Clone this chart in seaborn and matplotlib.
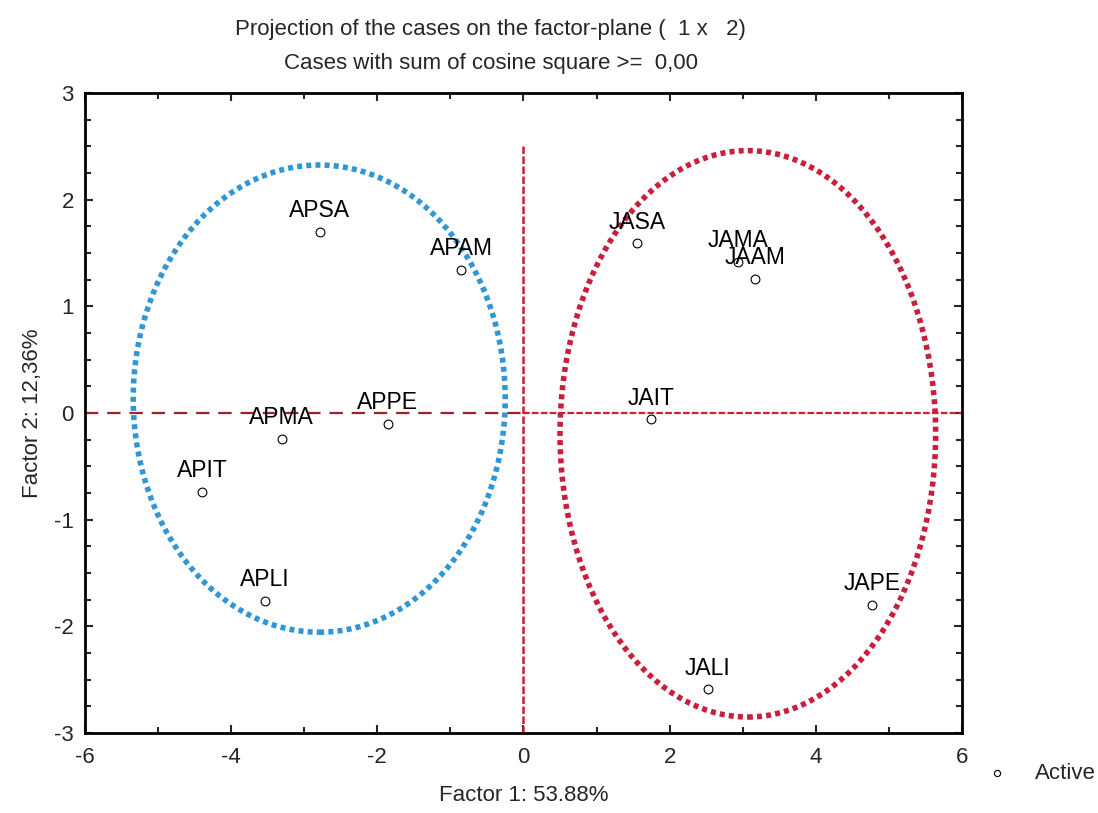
import matplotlib
matplotlib.use("Agg")
import matplotlib.pyplot as plt
from matplotlib.patches import Ellipse
from matplotlib.ticker import MultipleLocator
import seaborn as sns
import pandas as pd

# ---- data ----
case_labels = ["APSA", "APAM", "APMA", "APPE", "APIT", "APLI",
               "JASA", "JAMA", "JAAM", "JAIT", "JAPE", "JALI"]
factor1 = [-2.79, -0.85, -3.31, -1.86, -4.40, -3.54,
           1.56, 2.94, 3.17, 1.74, 4.77, 2.52]
factor2 = [1.70, 1.34, -0.24, -0.10, -0.74, -1.76,
           1.59, 1.42, 1.26, -0.06, -1.80, -2.59]

title_lines = ["Projection of the cases on the factor-plane (  1 x   2)",
               "Cases with sum of cosine square >=  0,00"]
xlabel = "Factor 1: 53.88%"
ylabel = "Factor 2: 12,36%"
legend_label = "Active"

# group ellipses: center x, center y, width, height
ell_blue = (-2.795, 0.135, 5.09, 4.38)
ell_red = (3.07, -0.195, 5.14, 5.31)

df = pd.DataFrame({"case": case_labels, "f1": factor1, "f2": factor2})

sns.set_style("ticks")
plt.rcParams["font.family"] = ["Liberation Sans", "DejaVu Sans"]
plt.rcParams["axes.unicode_minus"] = False

fig = plt.figure(figsize=(10.98, 8.13), dpi=100)
ax = fig.add_axes([0.0774, 0.0984, 0.7987, 0.7872])

# reference lines
ax.plot([-6, 0], [0, 0], color="#a02030", lw=1.6, ls=(0, (6, 4)), zorder=1)
ax.plot([0, 6], [0, 0], color="#cc2035", lw=1.6, ls=(0, (3, 1)), zorder=1)
ax.plot([0, 0], [2.5, -3], color="#c42035", lw=1.8, ls=(0, (3, 1)), zorder=1)

# ellipses
for (cx, cy, w, h), col in [(ell_blue, "#3196d4"), (ell_red, "#c81f3c")]:
    e = Ellipse((cx, cy), w, h, fill=False, edgecolor=col, lw=4,
                ls=(0, (0.9, 0.75)), zorder=2)
    ax.add_patch(e)

sns.scatterplot(data=df, x="f1", y="f2", ax=ax, marker="o", s=40,
                facecolor="white", edgecolor="black", linewidth=0.8,
                label=legend_label, zorder=3, legend=False)

for _, r in df.iterrows():
    ax.annotate(r["case"], (r["f1"], r["f2"]), xytext=(0, 7),
                textcoords="offset points", ha="center", va="bottom",
                fontsize=16.5, color="black", zorder=4)

ax.set_xlim(-6, 6)
ax.set_ylim(-3, 3)
ax.xaxis.set_major_locator(MultipleLocator(2))
ax.xaxis.set_minor_locator(MultipleLocator(1))
ax.yaxis.set_major_locator(MultipleLocator(1))
ax.yaxis.set_minor_locator(MultipleLocator(0.25))
ax.tick_params(which="both", direction="in", top=True, right=True,
               labelsize=16, width=1.5)
ax.tick_params(which="major", length=6)
ax.tick_params(which="minor", length=4)
ax.tick_params(axis="x", pad=10)
ax.tick_params(axis="y", pad=8)
for sp in ax.spines.values():
    sp.set_visible(True)
    sp.set_linewidth(2)
    sp.set_color("black")

ax.set_xlabel(xlabel, fontsize=16, labelpad=12)
ax.set_ylabel(ylabel, fontsize=16, labelpad=8)

fig.text(0.447, 0.964, title_lines[0], ha="center", va="center", fontsize=16)
fig.text(0.447, 0.922, title_lines[1], ha="center", va="center", fontsize=16)

handles = ax.collections[:1]
fig.legend(handles, [legend_label], loc="center", bbox_to_anchor=(0.948, 0.049),
           frameon=False, fontsize=16, handlelength=1.0, handletextpad=1.2,
           borderpad=0, markerscale=0.7)

fig.savefig("out.png", dpi=100)
